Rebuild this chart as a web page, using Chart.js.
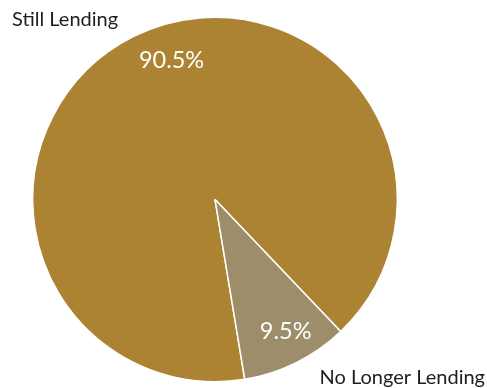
<!DOCTYPE html>
<html>
<head>
<meta charset="utf-8">
<script src="https://cdn.jsdelivr.net/npm/chart.js@4"></script>
<style>
  html, body { margin: 0; padding: 0; background: #fff; }
  #wrap { width: 487px; height: 388px; position: relative; }
</style>
</head>
<body>
<div id="wrap"><canvas id="lendingPie"></canvas></div>
<script>
// lending status split
var categories = ["Still Lending", "No Longer Lending"];
var shares = [90.5, 9.5];
var sliceColors = ["#AB8333", "#9D8D6A"];

var FONT = "Lato, 'Open Sans', sans-serif";

// percent inside each slice + category name outside
var sliceLabels = {
  id: 'sliceLabels',
  afterDatasetsDraw: function(chart) {
    var ctx = chart.ctx;
    var arcs = chart.getDatasetMeta(0).data;
    var nudge = [0.16, -0.03]; // angle shift (rad) for the inner text
    ctx.save();
    arcs.forEach(function(arc, i) {
      var p = arc.getProps(['x', 'y', 'startAngle', 'endAngle', 'outerRadius'], true);
      var mid = (p.startAngle + p.endAngle) / 2 + nudge[i];
      var r = p.outerRadius * (i == 0 ? 0.8 : 0.82);
      ctx.fillStyle = '#fff';
      ctx.font = '23.5px ' + FONT;
      ctx.textAlign = 'center';
      ctx.textBaseline = 'middle';
      ctx.fillText(shares[i].toFixed(1) + '%', p.x + Math.cos(mid) * r, p.y + Math.sin(mid) * r);
    });
    // outside names
    var area = chart.chartArea;
    ctx.fillStyle = '#1e1e1e';
    ctx.font = '20px ' + FONT;
    ctx.textBaseline = 'middle';
    ctx.textAlign = 'left';
    ctx.fillText(categories[0], 12, area.top + 3);
    ctx.textAlign = 'right';
    ctx.fillText(categories[1], chart.width - 2, area.bottom - 5);
    ctx.restore();
  }
};

var ctx = document.getElementById("lendingPie").getContext("2d");
var lendingPie = new Chart(ctx, {
  type: 'pie',
  data: {
    labels: categories,
    datasets: [{
      data: shares,
      backgroundColor: sliceColors,
      borderColor: '#fff',
      borderWidth: 1.5
    }]
  },
  options: {
    responsive: true,
    maintainAspectRatio: false,
    animation: false,
    rotation: 170.6,
    layout: { padding: { left: 32, right: 89, top: 16.5, bottom: 5.5 } },
    plugins: {
      legend: { display: false },
      tooltip: { enabled: false }
    }
  },
  plugins: [sliceLabels]
});
</script>
</body>
</html>
